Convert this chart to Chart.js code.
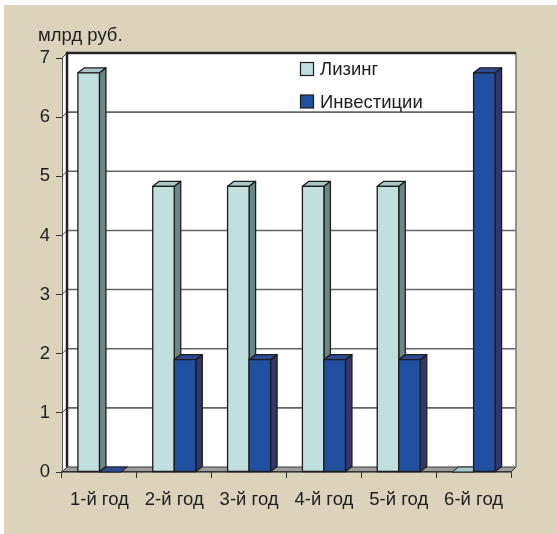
<!DOCTYPE html>
<html>
<head>
<meta charset="utf-8">
<script src="https://cdn.jsdelivr.net/npm/chart.js@4"></script>
<style>
  html, body { margin: 0; padding: 0; background: #ffffff; }
  #wrap { width: 557px; height: 534px; position: relative; }
  canvas { display: block; }
</style>
</head>
<body>
<div id="wrap"><canvas id="chart" width="557" height="534"></canvas></div>
<script>
// Годы и значения (млрд руб.)
const categories = ['1-й год', '2-й год', '3-й год', '4-й год', '5-й год', '6-й год'];
const leasing = [6.75, 4.83, 4.83, 4.83, 4.83, 0];
const investments = [0, 1.9, 1.9, 1.9, 1.9, 6.75];
const seriesNames = ['Лизинг', 'Инвестиции'];
const yTicks = [0, 1, 2, 3, 4, 5, 6, 7];
const unitLabel = 'млрд руб.';

// Оформление
const FONT = { family: '"Liberation Sans", Arial, sans-serif', size: 18.5 };
const TEXT_COLOR = '#1e1e1e';
const PAGE_BG = '#dbd3bc';
const WALL = { dx: 5, dy: -5 };      // смещение задней стенки
const BAR = { dx: 6.5, dy: -5 };     // глубина столбиков
const FACES = [
  { front: '#c1dfdf', side: '#6d8787', top: '#a9c7c7' },
  { front: '#2150a0', side: '#35366e', top: '#2d4a92' }
];
const OUTLINE = '#1c1c1c';

function poly(ctx, pts, fill, stroke, lw) {
  ctx.beginPath();
  ctx.moveTo(pts[0][0], pts[0][1]);
  for (let i = 1; i < pts.length; i++) ctx.lineTo(pts[i][0], pts[i][1]);
  ctx.closePath();
  if (fill) { ctx.fillStyle = fill; ctx.fill(); }
  if (stroke) { ctx.strokeStyle = stroke; ctx.lineWidth = lw || 1; ctx.stroke(); }
}

// Фон, стенки, пол и сетка на задней стенке
const wallsPlugin = {
  id: 'walls',
  beforeDraw(chart) {
    const ctx = chart.ctx;
    const a = chart.chartArea;
    const y = chart.scales.y;
    ctx.save();
    ctx.fillStyle = '#ffffff';
    ctx.fillRect(0, 0, chart.width, chart.height);
    ctx.fillStyle = PAGE_BG;
    ctx.fillRect(4, 5, chart.width - 4, chart.height - 5);

    const bl = a.left + WALL.dx, br = a.right + WALL.dx;
    const bt = a.top + WALL.dy, bb = a.bottom + WALL.dy;

    // левая боковая стенка
    poly(ctx, [[a.left, a.top], [bl, bt], [bl, bb], [a.left, a.bottom]], '#ffffff');
    // задняя стенка
    ctx.fillStyle = '#ffffff';
    ctx.fillRect(bl, bt, br - bl, bb - bt);

    // линии сетки
    ctx.lineWidth = 1.6;
    ctx.strokeStyle = '#646464';
    yTicks.forEach(v => {
      if (v === 0 || v === 7) return;
      const py = y.getPixelForValue(v) + WALL.dy;
      ctx.beginPath();
      ctx.moveTo(bl, py);
      ctx.lineTo(br, py);
      ctx.stroke();
    });

    // диагонали от делений к задней стенке
    ctx.lineWidth = 1;
    ctx.strokeStyle = '#444444';
    yTicks.forEach(v => {
      const py = y.getPixelForValue(v);
      ctx.beginPath();
      ctx.moveTo(a.left, py);
      ctx.lineTo(bl, py + WALL.dy);
      ctx.stroke();
    });

    // пол
    poly(ctx, [[a.left, a.bottom], [a.right, a.bottom], [br, bb], [bl, bb]], '#9c9c9c', '#3a3a3a', 1);

    // рамка задней стенки
    ctx.lineWidth = 1.8;
    ctx.strokeStyle = '#8a8a8a';
    ctx.beginPath();
    ctx.moveTo(br, bt);
    ctx.lineTo(br, bb);
    ctx.stroke();
    ctx.lineWidth = 2.5;
    ctx.strokeStyle = '#222222';
    ctx.beginPath();
    ctx.moveTo(br, bt);
    ctx.lineTo(bl, bt);
    ctx.lineTo(bl, bb);
    ctx.stroke();
    ctx.restore();
  }
};

// Объёмные столбики
const barsPlugin = {
  id: 'bars3d',
  beforeDatasetsDraw(chart) {
    const ctx = chart.ctx;
    ctx.save();
    ctx.lineJoin = 'round';
    const n = categories.length;
    for (let i = 0; i < n; i++) {
      chart.data.datasets.forEach((ds, d) => {
        const meta = chart.getDatasetMeta(d);
        if (meta.hidden) return;
        const el = meta.data[i];
        const p = el.getProps(['x', 'y', 'base', 'width'], true);
        const l = p.x - p.width / 2, r = p.x + p.width / 2;
        const top = Math.min(p.y, p.base), bot = Math.max(p.y, p.base);
        const f = FACES[d];
        const lw = 1.3;
        if (bot - top < 0.5) {
          poly(ctx, [[l, bot], [l + BAR.dx, bot + BAR.dy], [r + BAR.dx, bot + BAR.dy], [r, bot]], f.top, OUTLINE, 1);
          return;
        }
        poly(ctx, [[r, top], [r + BAR.dx, top + BAR.dy], [r + BAR.dx, bot + BAR.dy], [r, bot]], f.side, OUTLINE, lw);
        poly(ctx, [[l, top], [l + BAR.dx, top + BAR.dy], [r + BAR.dx, top + BAR.dy], [r, top]], f.top, OUTLINE, lw);
        poly(ctx, [[l, top], [r, top], [r, bot], [l, bot]], f.front, OUTLINE, lw);
      });
    }
    ctx.restore();
    return false;
  }
};

// Легенда и подпись единиц
const labelsPlugin = {
  id: 'labels',
  afterDraw(chart) {
    const ctx = chart.ctx;
    ctx.save();
    ctx.font = FONT.size + 'px ' + FONT.family;
    ctx.fillStyle = TEXT_COLOR;
    ctx.textBaseline = 'alphabetic';
    ctx.textAlign = 'left';
    ctx.fillText(unitLabel, 38, 40.5);

    const rows = [69, 101.5];
    chart.data.datasets.forEach((ds, d) => {
      const cy = rows[d];
      ctx.fillStyle = FACES[d].front;
      ctx.fillRect(300.5, cy - 6.5, 13, 13);
      ctx.strokeStyle = OUTLINE;
      ctx.lineWidth = 1.2;
      ctx.strokeRect(300.5, cy - 6.5, 13, 13);
      ctx.fillStyle = TEXT_COLOR;
      ctx.textBaseline = 'middle';
      ctx.fillText(ds.label, 320, cy + 1);
    });
    ctx.restore();
  }
};

new Chart(document.getElementById('chart'), {
  type: 'bar',
  data: {
    labels: categories,
    datasets: [
      { label: seriesNames[0], data: leasing, backgroundColor: FACES[0].front, borderColor: OUTLINE },
      { label: seriesNames[1], data: investments, backgroundColor: FACES[1].front, borderColor: OUTLINE }
    ]
  },
  options: {
    responsive: false,
    animation: false,
    devicePixelRatio: 1,
    layout: { padding: { left: 4, top: 58, right: 46, bottom: 0 } },
    datasets: { bar: { barPercentage: 1, categoryPercentage: 0.575 } },
    plugins: { legend: { display: false }, tooltip: { enabled: false }, title: { display: false } },
    scales: {
      x: {
        grid: { display: true, drawOnChartArea: false, drawTicks: true, tickLength: 6, color: '#333333', offset: true },
        border: { display: true, color: '#333333', width: 1.2 },
        ticks: { font: FONT, color: TEXT_COLOR, padding: 11, maxRotation: 0, autoSkip: false },
        afterFit(s) { s.height = 62; }
      },
      y: {
        min: 0,
        max: 7,
        afterBuildTicks(s) { s.ticks = yTicks.map(v => ({ value: v })); },
        ticks: { font: FONT, color: TEXT_COLOR, padding: 6 },
        grid: { display: true, drawOnChartArea: false, drawTicks: true, tickLength: 6, color: '#333333' },
        border: { display: true, color: '#555555', width: 1 },
        afterFit(s) { s.width = 58; }
      }
    }
  },
  plugins: [wallsPlugin, barsPlugin, labelsPlugin]
});
</script>
</body>
</html>
